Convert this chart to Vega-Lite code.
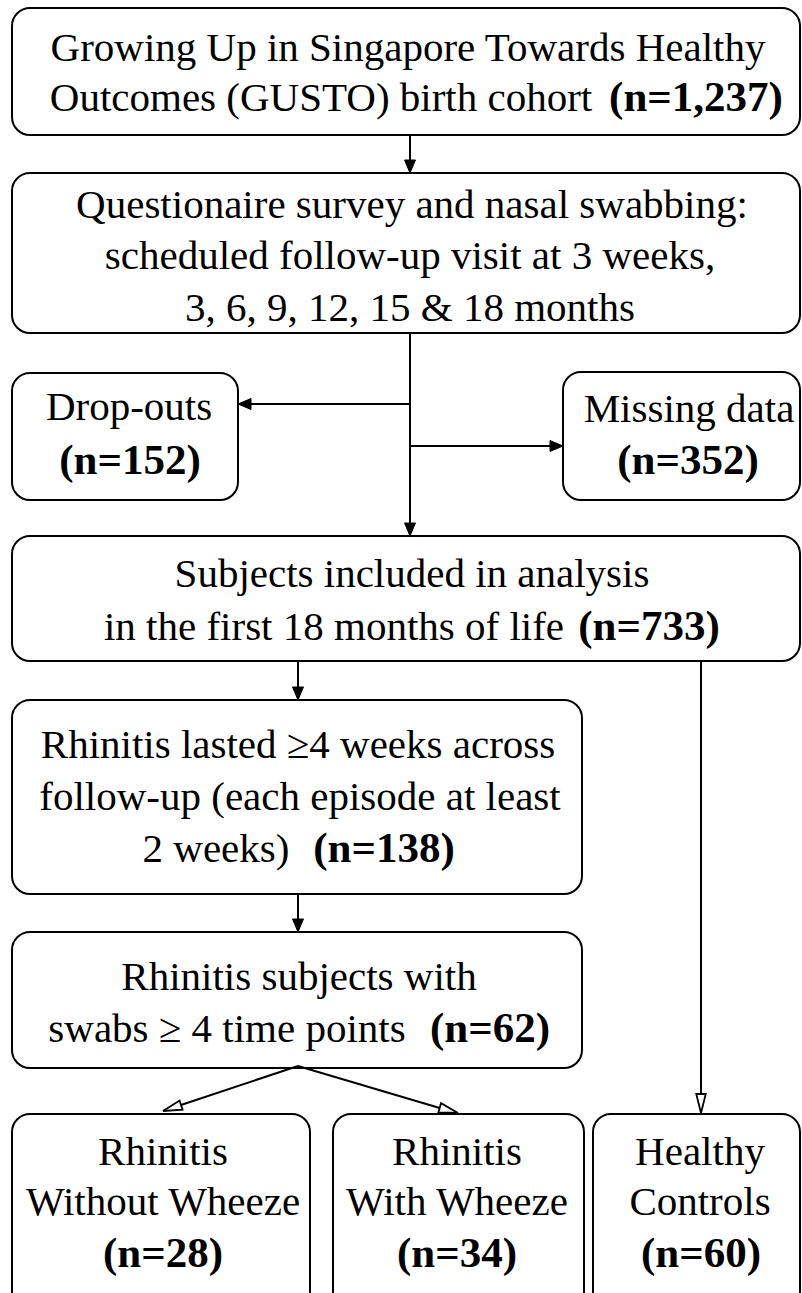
{
  "$schema": "https://vega.github.io/schema/vega-lite/v6.json",
  "description": "GUSTO cohort flow diagram",
  "width": 802,
  "height": 1293,
  "autosize": {"type": "fit", "contains": "padding"},
  "padding": 0,
  "background": "white",
  "config": {"view": {"stroke": null}},
  "datasets": {
    "boxes": [
      {"id": "cohort", "x": 12, "x2": 800, "y": 8, "y2": 135},
      {"id": "survey", "x": 12, "x2": 800, "y": 173, "y2": 333},
      {"id": "dropouts", "x": 12, "x2": 238, "y": 373, "y2": 500},
      {"id": "missing", "x": 563, "x2": 800, "y": 372, "y2": 500},
      {"id": "included", "x": 12, "x2": 800, "y": 536, "y2": 661},
      {"id": "rhinitis", "x": 12, "x2": 582, "y": 700, "y2": 894},
      {"id": "swabs", "x": 12, "x2": 582, "y": 932, "y2": 1068},
      {"id": "nowheeze", "x": 12, "x2": 310, "y": 1114, "y2": 1320},
      {"id": "wheeze", "x": 333, "x2": 584, "y": 1114, "y2": 1320},
      {"id": "healthy", "x": 593, "x2": 800, "y": 1114, "y2": 1320}
    ],
    "links": [
      {"x": 410, "y": 135, "x2": 410, "y2": 165},
      {"x": 410, "y": 333, "x2": 410, "y2": 528},
      {"x": 410, "y": 404, "x2": 246, "y2": 404},
      {"x": 410, "y": 446, "x2": 555, "y2": 446},
      {"x": 298, "y": 661, "x2": 298, "y2": 692},
      {"x": 298, "y": 894, "x2": 298, "y2": 924},
      {"x": 298, "y": 1066, "x2": 178, "y2": 1106},
      {"x": 298, "y": 1066, "x2": 443, "y2": 1109},
      {"x": 701, "y": 661, "x2": 701, "y2": 1097}
    ],
    "heads": [
      {"x": 410, "y": 173, "angle": 0, "kind": "solid"},
      {"x": 410, "y": 536, "angle": 0, "kind": "solid"},
      {"x": 238, "y": 404, "angle": 90, "kind": "solid"},
      {"x": 563, "y": 446, "angle": 270, "kind": "solid"},
      {"x": 298, "y": 700, "angle": 0, "kind": "solid"},
      {"x": 298, "y": 932, "angle": 0, "kind": "solid"},
      {"x": 163, "y": 1111, "angle": 72, "kind": "open"},
      {"x": 458, "y": 1113, "angle": 286, "kind": "open"},
      {"x": 701, "y": 1113, "angle": 0, "kind": "open"}
    ],
    "labels": [
      {"x": 408, "y": 61, "text": "Growing Up in Singapore Towards Healthy", "weight": "normal"},
      {"x": 321, "y": 111, "text": "Outcomes (GUSTO) birth cohort", "weight": "normal"},
      {"x": 696, "y": 111, "text": "(n=1,237)", "weight": "bold"},
      {"x": 412, "y": 218, "text": "Questionaire survey and nasal swabbing:", "weight": "normal"},
      {"x": 410, "y": 269, "text": "scheduled follow-up visit at 3 weeks,", "weight": "normal"},
      {"x": 410, "y": 321, "text": "3, 6, 9, 12, 15 & 18 months", "weight": "normal"},
      {"x": 129, "y": 420, "text": "Drop-outs", "weight": "normal"},
      {"x": 130, "y": 474, "text": "(n=152)", "weight": "bold"},
      {"x": 689, "y": 422, "text": "Missing data", "weight": "normal"},
      {"x": 688, "y": 474, "text": "(n=352)", "weight": "bold"},
      {"x": 412, "y": 587, "text": "Subjects included in analysis", "weight": "normal"},
      {"x": 334, "y": 640, "text": "in the first 18 months of life", "weight": "normal"},
      {"x": 649, "y": 640, "text": "(n=733)", "weight": "bold"},
      {"x": 298, "y": 758, "text": "Rhinitis lasted  ≥4 weeks across", "weight": "normal"},
      {"x": 300, "y": 810, "text": "follow-up (each episode at least", "weight": "normal"},
      {"x": 216, "y": 862, "text": "2 weeks)", "weight": "normal"},
      {"x": 384, "y": 862, "text": "(n=138)", "weight": "bold"},
      {"x": 299, "y": 990, "text": "Rhinitis subjects with", "weight": "normal"},
      {"x": 227, "y": 1042, "text": "swabs ≥ 4 time points", "weight": "normal"},
      {"x": 490, "y": 1042, "text": "(n=62)", "weight": "bold"},
      {"x": 163, "y": 1165, "text": "Rhinitis", "weight": "normal"},
      {"x": 163, "y": 1215, "text": "Without Wheeze", "weight": "normal"},
      {"x": 163, "y": 1267, "text": "(n=28)", "weight": "bold"},
      {"x": 457, "y": 1165, "text": "Rhinitis", "weight": "normal"},
      {"x": 457, "y": 1215, "text": "With Wheeze", "weight": "normal"},
      {"x": 457, "y": 1267, "text": "(n=34)", "weight": "bold"},
      {"x": 700, "y": 1165, "text": "Healthy", "weight": "normal"},
      {"x": 700, "y": 1215, "text": "Controls", "weight": "normal"},
      {"x": 701, "y": 1267, "text": "(n=60)", "weight": "bold"}
    ]
  },
  "layer": [
    {
      "data": {"name": "boxes"},
      "mark": {"type": "rect", "fill": "white", "stroke": "black", "strokeWidth": 2, "cornerRadius": 18, "clip": true},
      "encoding": {
        "x": {"field": "x", "type": "quantitative", "axis": null, "scale": {"domain": [0, 802], "nice": false, "zero": false}},
        "x2": {"field": "x2"},
        "y": {"field": "y", "type": "quantitative", "axis": null, "scale": {"domain": [0, 1293], "nice": false, "zero": false, "reverse": true}},
        "y2": {"field": "y2"}
      }
    },
    {
      "data": {"name": "links"},
      "mark": {"type": "rule", "stroke": "black", "strokeWidth": 2},
      "encoding": {
        "x": {"field": "x", "type": "quantitative", "axis": null, "scale": {"domain": [0, 802], "nice": false, "zero": false}},
        "x2": {"field": "x2"},
        "y": {"field": "y", "type": "quantitative", "axis": null, "scale": {"domain": [0, 1293], "nice": false, "zero": false, "reverse": true}},
        "y2": {"field": "y2"}
      }
    },
    {
      "data": {"name": "heads"},
      "transform": [{"filter": "datum.kind === 'solid'"}],
      "mark": {"type": "point", "shape": "M0,0L-0.42,-1L0.42,-1Z", "size": 676, "filled": true, "fill": "black", "stroke": "black", "strokeWidth": 1, "opacity": 1},
      "encoding": {
        "x": {"field": "x", "type": "quantitative", "axis": null, "scale": {"domain": [0, 802], "nice": false, "zero": false}},
        "y": {"field": "y", "type": "quantitative", "axis": null, "scale": {"domain": [0, 1293], "nice": false, "zero": false, "reverse": true}},
        "angle": {"field": "angle", "type": "quantitative", "scale": null}
      }
    },
    {
      "data": {"name": "heads"},
      "transform": [{"filter": "datum.kind === 'open'"}],
      "mark": {"type": "point", "shape": "M0,0L-0.25,-1L0.25,-1Z", "size": 1444, "filled": true, "fill": "white", "stroke": "black", "strokeWidth": 1.8, "opacity": 1},
      "encoding": {
        "x": {"field": "x", "type": "quantitative", "axis": null, "scale": {"domain": [0, 802], "nice": false, "zero": false}},
        "y": {"field": "y", "type": "quantitative", "axis": null, "scale": {"domain": [0, 1293], "nice": false, "zero": false, "reverse": true}},
        "angle": {"field": "angle", "type": "quantitative", "scale": null}
      }
    },
    {
      "data": {"name": "labels"},
      "transform": [{"filter": "datum.weight === 'normal'"}],
      "mark": {"type": "text", "font": "Liberation Serif", "fontSize": 41, "align": "center", "baseline": "alphabetic", "fill": "black"},
      "encoding": {
        "x": {"field": "x", "type": "quantitative", "axis": null, "scale": {"domain": [0, 802], "nice": false, "zero": false}},
        "y": {"field": "y", "type": "quantitative", "axis": null, "scale": {"domain": [0, 1293], "nice": false, "zero": false, "reverse": true}},
        "text": {"field": "text"}
      }
    },
    {
      "data": {"name": "labels"},
      "transform": [{"filter": "datum.weight === 'bold'"}],
      "mark": {"type": "text", "font": "Liberation Serif", "fontSize": 43, "fontWeight": "bold", "align": "center", "baseline": "alphabetic", "fill": "black"},
      "encoding": {
        "x": {"field": "x", "type": "quantitative", "axis": null, "scale": {"domain": [0, 802], "nice": false, "zero": false}},
        "y": {"field": "y", "type": "quantitative", "axis": null, "scale": {"domain": [0, 1293], "nice": false, "zero": false, "reverse": true}},
        "text": {"field": "text"}
      }
    }
  ]
}
